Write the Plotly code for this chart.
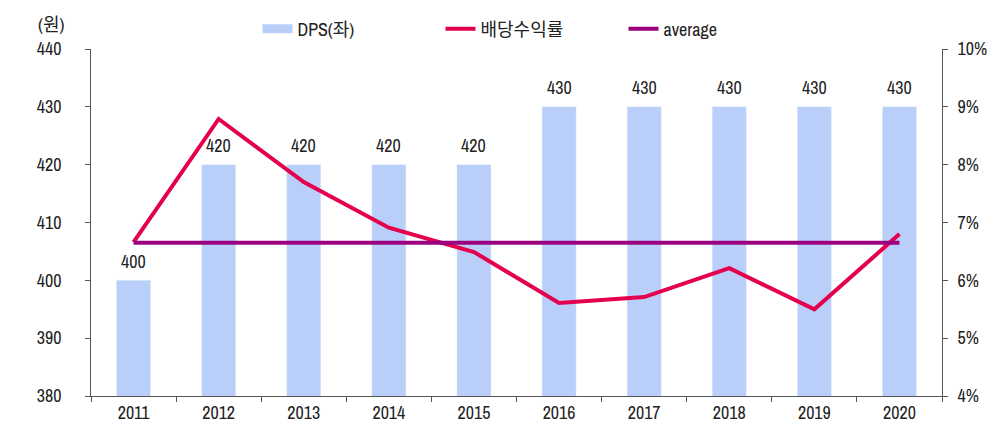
import plotly.graph_objects as go

years = ["2011", "2012", "2013", "2014", "2015", "2016", "2017", "2018", "2019", "2020"]
dps = [400, 420, 420, 420, 420, 430, 430, 430, 430, 430]
yield_pct = [6.66, 8.79, 7.70, 6.91, 6.49, 5.61, 5.71, 6.21, 5.50, 6.80]
average = [6.65] * 10

FONT = "Archivo Narrow, Noto Sans CJK KR, sans-serif"
BAR_COLOR = "#b9cffa"

fig = go.Figure()
fig.add_trace(go.Bar(
    x=years, y=dps, name="DPS(좌)", marker_color=BAR_COLOR,
    width=0.4, showlegend=False,
))
# legend entry drawn as a wide flat band like the reference
fig.add_trace(go.Scatter(
    x=[None], y=[None], name="DPS(좌)", mode="lines",
    line=dict(color=BAR_COLOR, width=9),
))
fig.add_trace(go.Scatter(
    x=years, y=yield_pct, name="배당수익률", mode="lines",
    line=dict(color="#e5004f", width=4), yaxis="y2",
))
fig.add_trace(go.Scatter(
    x=years, y=average, name="average", mode="lines",
    line=dict(color="#9b007f", width=4), yaxis="y2",
))

# bar value labels (category index positions on the category axis)
annotations = [
    dict(x=i, y=v, xref="x", yref="y", text=str(v), showarrow=False,
         yanchor="middle", yshift=19, font=dict(size=18, color="#222222"))
    for i, v in enumerate(dps)
]
annotations.append(dict(text="(원)", x=(51 - 91) / 851, y=1 + (49 - 24) / 347,
                        xref="paper", yref="paper", showarrow=False,
                        xanchor="center", yanchor="middle", font=dict(size=18)))

fig.update_layout(
    width=1001, height=434,
    margin=dict(l=91, r=59, t=49, b=38, autoexpand=False),
    paper_bgcolor="white", plot_bgcolor="white",
    font=dict(family=FONT, size=18, color="#222222"),
    legend=dict(orientation="h", x=(532 - 91) / 851, xanchor="center",
                y=1 + (49 - 29) / 347, yanchor="middle",
                entrywidth=138, entrywidthmode="pixels",
                font=dict(size=18), traceorder="normal"),
    xaxis=dict(type="category", categoryorder="array", categoryarray=years,
               range=[-0.5, len(years) - 0.5], autorange=False, automargin=False,
               showline=True, linecolor="#555555", linewidth=1,
               ticks="outside", ticklen=5, tickcolor="#555555", tickson="boundaries",
               showgrid=False, tickfont=dict(size=18)),
    yaxis=dict(range=[380, 440], dtick=10, showline=True, linecolor="#555555", linewidth=1,
               ticks="outside", ticklen=5, tickcolor="#555555", showgrid=False,
               automargin=False,
               zeroline=False, ticklabelstandoff=20, tickfont=dict(size=18)),
    yaxis2=dict(range=[4, 10], dtick=1, overlaying="y", side="right", showline=True,
                linecolor="#555555", linewidth=1, ticks="outside", ticklen=5,
                tickcolor="#555555", showgrid=False, zeroline=False, automargin=False,
                ticksuffix="%", ticklabelstandoff=6, tickfont=dict(size=18)),
    annotations=annotations,
)

fig.write_html("out.html")
